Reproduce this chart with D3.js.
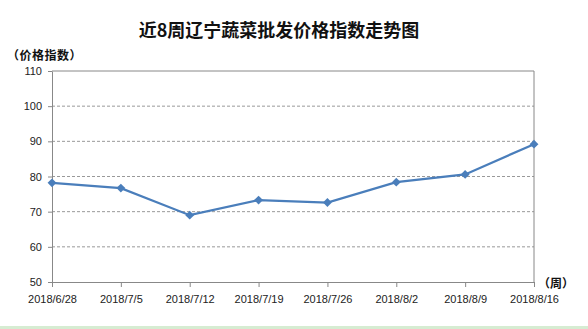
<!DOCTYPE html>
<html>
<head>
<meta charset="utf-8">
<script src="https://cdn.jsdelivr.net/npm/d3@7"></script>
<style>
  body { margin: 0; background: #fff; }
  svg { display: block; font-family: "Liberation Sans", Arial, sans-serif; }
  .axis text { font-size: 11px; fill: #222; }
  .axis path, .axis line { stroke: #888; }
  .grid line { stroke: #999; stroke-dasharray: 3,2; }
</style>
</head>
<body>
<div id="chart"></div>
<script>
// weeks and index values
const weeks = ['2018/6/28', '2018/7/5', '2018/7/12', '2018/7/19', '2018/7/26', '2018/8/2', '2018/8/9', '2018/8/16'];
const priceIndex = [78.2, 76.7, 69.0, 73.3, 72.6, 78.4, 80.6, 89.2];
const yTicks = [50, 60, 70, 80, 90, 100, 110];

const titleText = '近8周辽宁蔬菜批发价格指数走势图';
const yLabelText = '（价格指数）';
const xLabelText = '（周）';

const width = 588, height = 329;
const margin = { top: 71, right: 54, bottom: 47, left: 52 };
const innerW = width - margin.left - margin.right;
const innerH = height - margin.top - margin.bottom;

const svg = d3.select('#chart').append('svg')
  .attr('width', width)
  .attr('height', height);

// light green strip along the bottom edge
svg.append('rect')
  .attr('x', 0).attr('y', 326)
  .attr('width', width).attr('height', 3)
  .attr('fill', '#d6ecd2');

svg.append('text')
  .attr('x', 279).attr('y', 37)
  .attr('text-anchor', 'middle')
  .style('font-family', '"Noto Sans CJK SC", sans-serif')
  .style('font-size', '18px')
  .style('font-weight', 'bold')
  .attr('fill', '#111')
  .text(titleText);

svg.append('text')
  .attr('x', 7).attr('y', 60)
  .style('font-family', '"Noto Sans CJK SC", sans-serif')
  .style('font-size', '12px')
  .style('font-weight', 'bold')
  .style('letter-spacing', '0.5px')
  .attr('fill', '#111')
  .text(yLabelText);

svg.append('text')
  .attr('x', 538).attr('y', 288)
  .style('font-family', '"Noto Sans CJK SC", sans-serif')
  .style('font-size', '12px')
  .style('font-weight', 'bold')
  .attr('fill', '#111')
  .text(xLabelText);

const xScale = d3.scalePoint().domain(weeks).range([0, innerW]);
const yScale = d3.scaleLinear().domain([50, 110]).range([innerH, 0]);

const g = svg.append('g')
  .attr('transform', `translate(${margin.left}, ${margin.top})`);

// dashed grid lines (inner values only)
g.append('g').attr('class', 'grid')
  .selectAll('line')
  .data(yTicks.filter(d => d > 50 && d < 110))
  .join('line')
  .attr('x1', 0).attr('x2', innerW)
  .attr('y1', d => yScale(d)).attr('y2', d => yScale(d));

// top and right frame
g.append('path')
  .attr('d', `M0,${yScale(110)}H${innerW}V${innerH}`)
  .attr('fill', 'none')
  .attr('stroke', '#888');

g.append('g').attr('class', 'axis')
  .call(d3.axisLeft(yScale).tickValues(yTicks).tickSize(4).tickPadding(6).tickSizeOuter(0));

g.append('g').attr('class', 'axis')
  .attr('transform', `translate(0, ${innerH})`)
  .call(d3.axisBottom(xScale).tickSize(5).tickPadding(8).tickSizeOuter(0));

const line = d3.line()
  .x((d, i) => xScale(weeks[i]))
  .y(d => yScale(d));

g.append('path')
  .datum(priceIndex)
  .attr('d', line)
  .attr('fill', 'none')
  .attr('stroke', '#4a7ebb')
  .attr('stroke-width', 2.2);

// square diamonds, Excel style
g.selectAll('path.marker')
  .data(priceIndex)
  .join('path')
  .attr('class', 'marker')
  .attr('d', d3.symbol(d3.symbolDiamond2, 50))
  .attr('transform', (d, i) => `translate(${xScale(weeks[i])}, ${yScale(d)})`)
  .attr('fill', '#4a7ebb');
</script>
</body>
</html>
